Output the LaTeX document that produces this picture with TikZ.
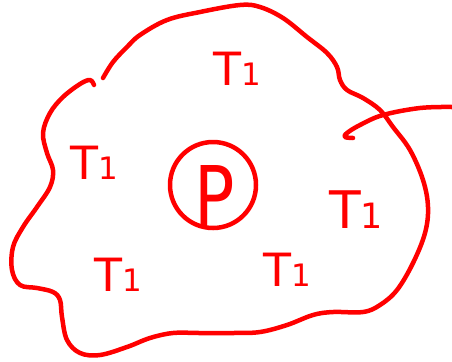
\documentclass[tikz,border=0pt]{standalone}
\usepackage{fontspec}
\setmainfont{DejaVu Sans}
\definecolor{ink}{RGB}{255,0,0}
\tikzset{
  pen/.style={draw=ink, line width=4.5bp, line cap=round, line join=round},
  lbl/.style={text=ink, inner sep=0pt, font=\fontsize{46}{46}\selectfont},
}
\newcommand{\Tone}{T{\fontsize{31}{31}\selectfont 1}}
\begin{document}
\begin{tikzpicture}[x=1bp,y=-1bp]
\useasboundingbox (0,0) rectangle (452,361);
% outline blob
\draw[pen] plot[smooth, tension=0.6] coordinates {
 (103,78) (113,62) (127,47) (140,35) (167,20) (200,12) (240,5) (260,7)
 (283,18) (307,37) (327,53) (337,67) (340,80) (347,90) (363,98) (380,110)
 (393,127) (410,150) (423,180) (428,207) (425,233) (413,263) (397,290)
 (380,305) (363,312) (333,312) (313,315) (287,325) (260,332) (233,333)
 (200,333) (173,333) (150,338) (127,347) (100,355) (80,353) (67,340)
 (62,317) (60,300) (53,292) (37,288) (20,285) (12,270) (13,247) (23,227)
 (37,207) (50,187) (53,170) (47,153) (43,133) (50,113) (63,97) (80,84)
 (90,80) (94,85)};
% pointer stroke on the right
\draw[pen] plot[smooth, tension=0.6] coordinates {
 (452,107) (420,108) (383,115) (360,125) (347,133) (345,137) (353,138)};
% central circle with P
\node[pen, circle, minimum size=86bp, inner sep=0pt] (pc) at (213,185) {};
\node[text=ink, inner sep=0pt, xscale=0.8, font=\fontsize{84}{84}\selectfont] (p) at (215,196) {P};
% labels
\node[lbl] (t1) at (237,69) {\Tone};
\node[lbl] (t2) at (94,163) {\Tone};
\node[lbl, font=\fontsize{52}{52}\selectfont] (t3) at (356,210) {T{\fontsize{35}{35}\selectfont 1}};
\node[lbl] (t4) at (118,275) {\Tone};
\node[lbl] (t5) at (287,270) {\Tone};
\end{tikzpicture}
\end{document}
